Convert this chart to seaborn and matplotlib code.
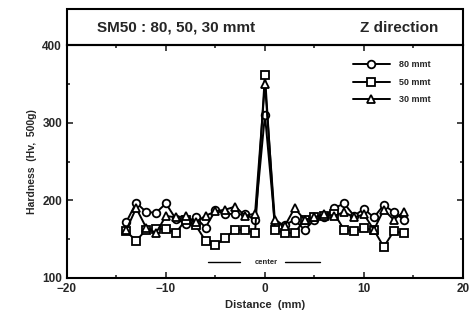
import matplotlib
matplotlib.use("Agg")
import matplotlib.pyplot as plt
import seaborn as sns
import pandas as pd
from matplotlib.patches import Rectangle

distance = list(range(-14, 15))
hv_80 = [172, 197, 185, 184, 196, 176, 170, 178, 165, 187, 183, 182, 182, 175, 310,
         170, 168, 175, 162, 175, 178, 190, 196, 180, 189, 178, 194, 185, 175]
hv_50 = [160, 148, 162, 163, 163, 158, 175, 168, 148, 142, 152, 162, 162, 158, 362,
         162, 158, 158, 175, 178, 180, 183, 162, 160, 164, 162, 140, 160, 158]
hv_30 = [162, 190, 165, 158, 180, 178, 180, 172, 180, 186, 188, 192, 180, 183, 350,
         175, 167, 190, 175, 178, 183, 180, 185, 178, 182, 162, 188, 175, 185]
series_labels = ["80 mmt", "50 mmt", "30 mmt"]
series_markers = ["o", "s", "^"]

sns.set_style("ticks")
plt.rcParams['font.family'] = ['Liberation Sans', 'DejaVu Sans']
plt.rcParams['font.weight'] = 'bold'

fig = plt.figure(figsize=(4.71, 3.24), dpi=100)
ax = fig.add_axes([0.142, 0.142, 0.841, 0.719])

for vals, lab, mk in zip([hv_80, hv_50, hv_30], series_labels, series_markers):
    df = pd.DataFrame({"Distance": distance, "Hardness": vals})
    sns.lineplot(data=df, x="Distance", y="Hardness", ax=ax, color="black",
                 marker=mk, markersize=5.5, markerfacecolor="white",
                 markeredgecolor="black", markeredgewidth=1.3, linewidth=1.4,
                 label=lab)

ax.set_xlim(-20, 20)
ax.set_ylim(100, 400)
ax.set_xticks([-20, -10, 0, 10, 20])
ax.set_xticks([-15, -5, 5, 15], minor=True)
ax.set_yticks([100, 200, 300, 400])
ax.set_yticks([150, 250, 350], minor=True)
ax.tick_params(which="both", direction="in", top=True, right=True, width=1.2)
ax.tick_params(which="major", length=4, labelsize=8.5)
ax.tick_params(which="minor", length=2)
for lbl in ax.get_xticklabels() + ax.get_yticklabels():
    lbl.set_fontweight("bold")
for sp in ax.spines.values():
    sp.set_linewidth(1.5)
    sp.set_color("black")

ax.set_xlabel("Distance  (mm)", fontsize=8, fontweight="bold")
ax.set_ylabel("Hardness  (Hv,  500g)", fontsize=7.5, fontweight="bold")

leg = ax.legend(loc="upper right", frameon=False, fontsize=6.5, handlelength=4.2,
                bbox_to_anchor=(0.94, 0.97), labelspacing=0.95, handletextpad=1.0)

# center annotation
ax.plot([-5.8, -2.5], [120, 120], color="black", lw=1)
ax.plot([2.0, 5.6], [120, 120], color="black", lw=1)
ax.text(0.1, 120, "center", fontsize=5.5, ha="center", va="center", fontweight="bold")

# title box
box = Rectangle((0.142, 0.861), 0.841, 0.111, transform=fig.transFigure,
                fill=False, lw=1.5, edgecolor="black")
fig.patches.append(box)
fig.text(0.207, 0.915, "SM50 : 80, 50, 30 mmt", fontsize=11, fontweight="bold",
         va="center", ha="left")
fig.text(0.93, 0.915, "Z direction", fontsize=11, fontweight="bold",
         va="center", ha="right")

fig.savefig("out.png", dpi=100)
